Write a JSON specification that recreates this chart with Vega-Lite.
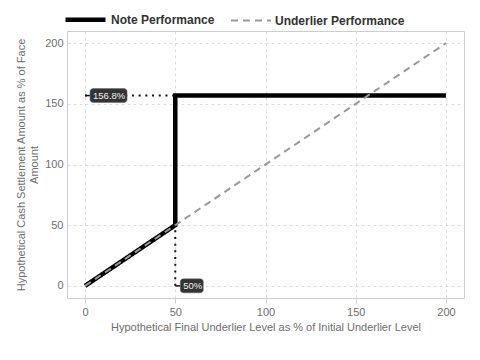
{
  "$schema": "https://vega.github.io/schema/vega-lite/v6.json",
  "width": 397,
  "height": 267,
  "autosize": {"type": "none"},
  "padding": {"left": 67, "top": 31, "right": 16, "bottom": 62},
  "background": "white",
  "config": {
    "font": "Liberation Sans",
    "view": {"stroke": "#c9ced6", "strokeWidth": 1},
    "axis": {
      "gridColor": "#dddddd",
      "gridDash": [3, 3],
      "gridWidth": 1,
      "domain": false,
      "labelColor": "#6e6e6e",
      "labelFontSize": 11,
      "titleColor": "#6e6e6e",
      "titleFontSize": 11,
      "titleFontWeight": "normal",
      "tickColor": "#c9ced6"
    }
  },
  "layer": [
    {
      "data": {
        "values": [
          {"series": "Note Performance", "step": 1, "x": 0, "y": 0},
          {"series": "Note Performance", "step": 2, "x": 50, "y": 50},
          {"series": "Note Performance", "step": 3, "x": 50, "y": 156.8},
          {"series": "Note Performance", "step": 4, "x": 200, "y": 156.8},
          {"series": "Underlier Performance", "step": 1, "x": 0, "y": 0},
          {"series": "Underlier Performance", "step": 2, "x": 200, "y": 200}
        ]
      },
      "mark": {"type": "line", "strokeCap": "butt"},
      "encoding": {
        "x": {
          "field": "x", "type": "quantitative",
          "scale": {"domain": [-10, 210], "nice": false, "zero": false},
          "axis": {"values": [0, 50, 100, 150, 200], "title": "Hypothetical Final Underlier Level as % of Initial Underlier Level", "tickSize": 5, "labelPadding": 3, "titlePadding": 4}
        },
        "y": {
          "field": "y", "type": "quantitative",
          "scale": {"domain": [-10, 210], "nice": false, "zero": false},
          "axis": {"values": [0, 50, 100, 150, 200], "title": ["Hypothetical Cash Settlement Amount as % of Face", "Amount"], "ticks": false, "labelPadding": 4, "titlePadding": 5}
        },
        "color": {
          "field": "series", "type": "nominal",
          "scale": {"domain": ["Note Performance", "Underlier Performance"], "range": ["#000000", "#999999"]},
          "legend": {
            "orient": "none", "legendX": -4, "legendY": -34, "direction": "horizontal",
            "title": null, "padding": 0, "symbolType": "stroke", "symbolSize": 1600,
            "labelFont": "Liberation Sans", "labelFontWeight": "bold", "labelFontSize": 12, "labelColor": "#333333",
            "labelOffset": 3, "columnPadding": 12
          }
        },
        "strokeDash": {
          "field": "series", "type": "nominal",
          "scale": {"domain": ["Note Performance", "Underlier Performance"], "range": [[1, 0], [7, 5]]},
          "legend": null
        },
        "strokeWidth": {
          "field": "series", "type": "nominal",
          "scale": {"domain": ["Note Performance", "Underlier Performance"], "range": [4.5, 2]},
          "legend": null
        },
        "order": {"field": "step", "type": "quantitative"}
      }
    },
    {
      "data": {
        "values": [
          {"x": 0, "y": 156.8, "xEnd": 50, "yEnd": 156.8},
          {"x": 50, "y": 0, "xEnd": 50, "yEnd": 50}
        ]
      },
      "mark": {"type": "rule", "color": "#111111", "strokeWidth": 2, "strokeDash": [2, 4.7]},
      "encoding": {
        "x": {"field": "x", "type": "quantitative"},
        "x2": {"field": "xEnd"},
        "y": {"field": "y", "type": "quantitative"},
        "y2": {"field": "yEnd"}
      }
    },
    {
      "data": {"values": [{"x": 0, "y": 156.8}, {"x": 50, "y": 0}]},
      "mark": {"type": "rule", "color": "#111111", "strokeWidth": 1.5, "x2Offset": 5},
      "encoding": {
        "x": {"field": "x", "type": "quantitative"},
        "x2": {"field": "x"},
        "y": {"field": "y", "type": "quantitative"}
      }
    },
    {
      "data": {"values": [{"x": 0, "y": 156.8}]},
      "mark": {"type": "rect", "color": "#333333", "stroke": "#666666", "strokeWidth": 0.5, "cornerRadius": 3, "xOffset": 5, "x2Offset": 42, "yOffset": -7, "y2Offset": 7},
      "encoding": {
        "x": {"field": "x", "type": "quantitative"},
        "x2": {"field": "x"},
        "y": {"field": "y", "type": "quantitative"},
        "y2": {"field": "y"}
      }
    },
    {
      "data": {"values": [{"x": 50, "y": 0}]},
      "mark": {"type": "rect", "color": "#333333", "stroke": "#666666", "strokeWidth": 0.5, "cornerRadius": 3, "xOffset": 5, "x2Offset": 28, "yOffset": -7, "y2Offset": 7},
      "encoding": {
        "x": {"field": "x", "type": "quantitative"},
        "x2": {"field": "x"},
        "y": {"field": "y", "type": "quantitative"},
        "y2": {"field": "y"}
      }
    },
    {
      "data": {"values": [{"x": 0, "y": 156.8, "label": "156.8%"}, {"x": 50, "y": 0, "label": "50%"}]},
      "mark": {"type": "text", "align": "left", "baseline": "middle", "dx": 8, "dy": 0.5, "fontSize": 9.5, "color": "#f2f2f2", "font": "Liberation Sans"},
      "encoding": {
        "x": {"field": "x", "type": "quantitative"},
        "y": {"field": "y", "type": "quantitative"},
        "text": {"field": "label"}
      }
    }
  ]
}
